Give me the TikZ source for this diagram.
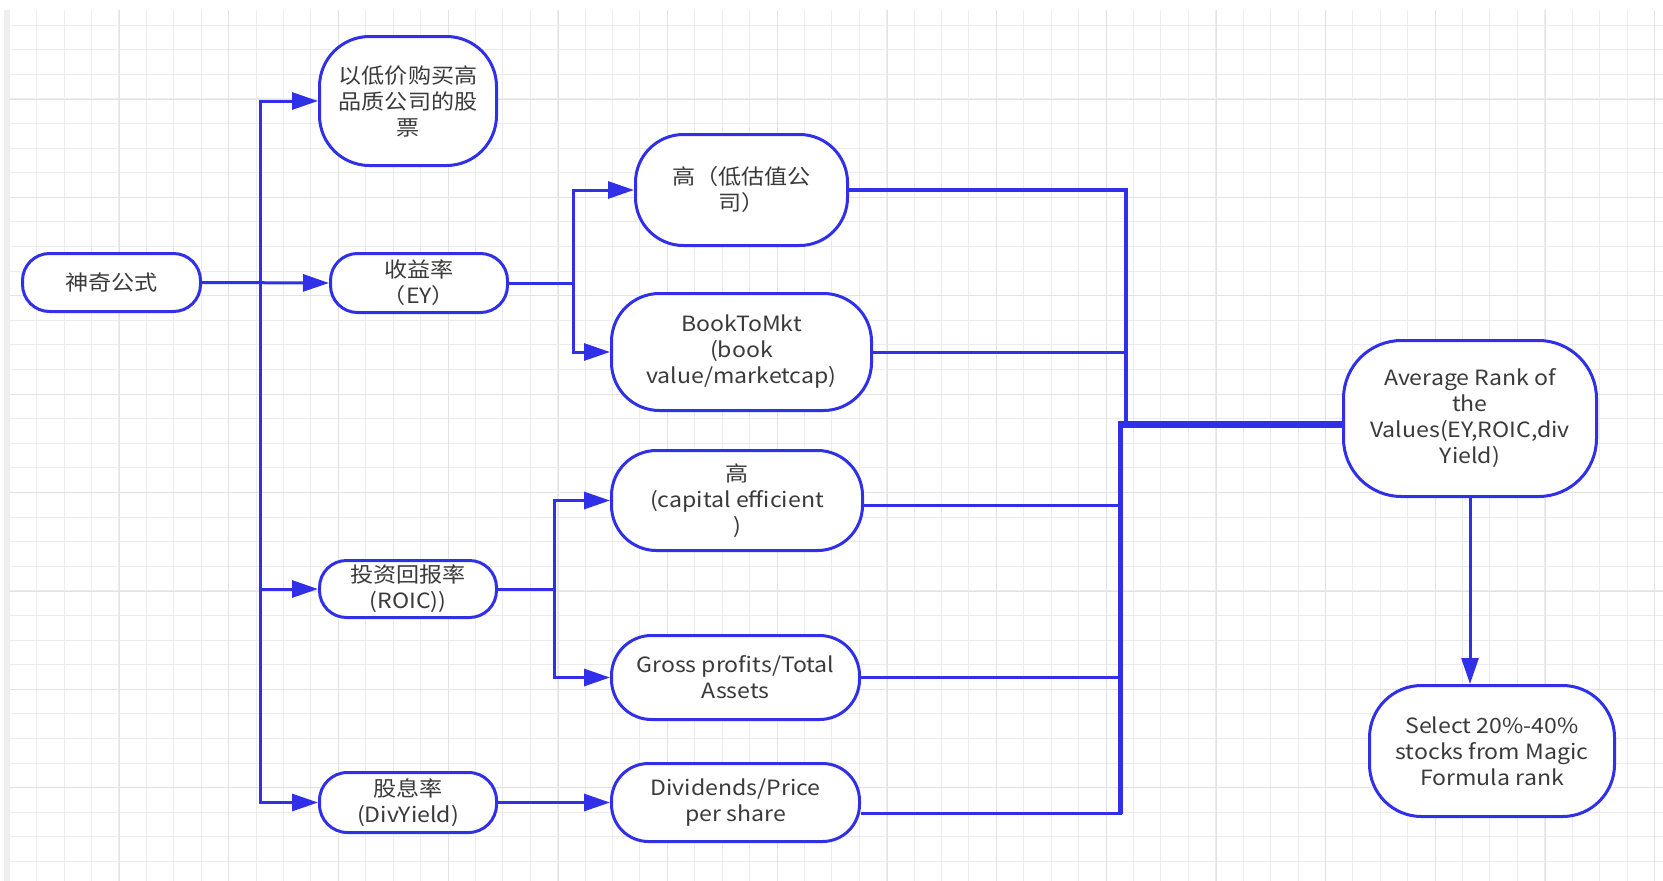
\documentclass[tikz,border=0pt]{standalone}
\usepackage{fontspec}
\setmainfont{Noto Sans CJK SC}[FakeStretch=1.1]
\usetikzlibrary{arrows.meta}
\definecolor{myblue}{RGB}{48,48,232}
\definecolor{mytext}{RGB}{58,58,58}
\definecolor{gminor}{RGB}{236,236,236}
\definecolor{gmajor}{RGB}{227,227,227}
\definecolor{gband}{RGB}{238,238,238}
\begin{document}
\begin{tikzpicture}[x=1pt,y=-1pt,
  box/.style={draw=myblue, line width=3pt, fill=white, text=mytext, align=center,
              inner sep=0pt, font=\fontsize{21}{26}\selectfont},
  conn/.style={draw=myblue, line width=3pt},
  arr/.style={conn, -{Triangle[length=26pt,width=17pt]}},
]
\useasboundingbox (0,0) rectangle (1663,881);
\fill[white] (0,0) rectangle (1663,881);
% grid
\foreach \i in {0,...,59} {
  \pgfmathsetmacro\xx{36.7+27.42*\i}
  \draw[gminor, line width=1pt] (\xx,10) -- (\xx,881);
}
\foreach \k in {0,...,34} {
  \pgfmathsetmacro\yy{25+24.6*\k}
  \draw[gminor, line width=1pt] (10,\yy) -- (1663,\yy);
}
\foreach \i in {0,...,14} {
  \pgfmathsetmacro\xx{119.3+109.68*\i}
  \draw[gmajor, line width=1pt] (\xx,10) -- (\xx,881);
}
\foreach \k in {0,...,7} {
  \pgfmathsetmacro\yy{99+98.4*\k}
  \draw[gmajor, line width=1pt] (10,\yy) -- (1663,\yy);
}
\fill[gband] (4,10) rectangle (10,881);

% nodes
\node[box, minimum width=178pt, minimum height=58pt, rounded corners=27pt] (magic) at (111.5,282.5) {神奇公式};
\node[box, minimum width=177pt, minimum height=129pt, rounded corners=50pt] (buy) at (408,101) {以低价购买高\\品质公司的股\\票};
\node[box, minimum width=177pt, minimum height=59pt, rounded corners=27pt] (ey) at (419,283) {收益率\\（EY）};
\node[box, minimum width=212pt, minimum height=111pt, rounded corners=48pt] (gao1) at (741.5,190) {高（低估值公\\司）};
\node[box, minimum width=260pt, minimum height=117pt, rounded corners=48pt] (btm) at (741.5,352) {BookToMkt\\(book\\value/marketcap)};
\node[box, minimum width=251pt, minimum height=100pt, rounded corners=45pt] (gao2) at (737,500.5) {高\\(capital efficient\\)};
\node[box, minimum width=177pt, minimum height=57pt, rounded corners=27pt] (roic) at (408,589) {投资回报率\\(ROIC))};
\node[box, minimum width=248pt, minimum height=84pt, rounded corners=40pt] (gross) at (735.5,677.5) {Gross profits/Total\\Assets};
\node[box, minimum width=177pt, minimum height=60pt, rounded corners=28pt] (div) at (408,802.5) {股息率\\(DivYield)};
\node[box, minimum width=248pt, minimum height=78pt, rounded corners=37pt] (dps) at (735.5,802.5) {Dividends/Price\\per share};
\node[box, minimum width=253pt, minimum height=156pt, rounded corners=58pt] (avg) at (1470,418.5) {Average Rank of\\the\\Values(EY,ROIC,div\\Yield)};
\node[box, minimum width=245pt, minimum height=131pt, rounded corners=52pt] (sel) at (1492,751) {Select 20\%-40\%\\stocks from Magic\\Formula rank};

% left connectors
\coordinate (j0) at (260,282.5);
\draw[arr] (magic.east) -- (ey.west);
\draw[arr] (j0) |- (buy.west);
\draw[arr] (j0) |- (roic.west);
\draw[arr] (j0) |- (div.west);

\coordinate (j1) at (573,283);
\draw[conn] (ey.east) -- (j1);
\draw[arr] (j1) |- (gao1.west);
\draw[arr] (j1) |- (btm.west);

\coordinate (j2) at (554,589);
\draw[conn] (roic.east) -- (j2);
\draw[arr] (j2) |- (gao2.west);
\draw[arr] (j2) |- (gross.west);

\draw[arr] (div.east) -- (dps.west);

% right buses
\coordinate (ub) at (1126,424);
\coordinate (lbus) at (1120,424);
\draw[conn, line width=3.5pt] (gao1.east) -| (ub);
\draw[conn] (btm.east) -- (btm.east -| ub);
\draw[conn] ([yshift=-4.5pt]gao2.east) -- ([yshift=-4.5pt]gao2.east -| lbus);
\draw[conn] (gross.east) -- (gross.east -| lbus);
\draw[conn] ([yshift=-11pt]dps.east) -| (lbus);
\draw[conn, line width=5pt] ([yshift=-11pt]dps.east -| lbus) -- ([yshift=3pt]lbus);
\draw[conn, line width=7pt] ([xshift=-2.5pt]lbus) -- (lbus -| avg.west);

\draw[arr] (avg.south) -- (avg.south |- sel.north);
\end{tikzpicture}
\end{document}
